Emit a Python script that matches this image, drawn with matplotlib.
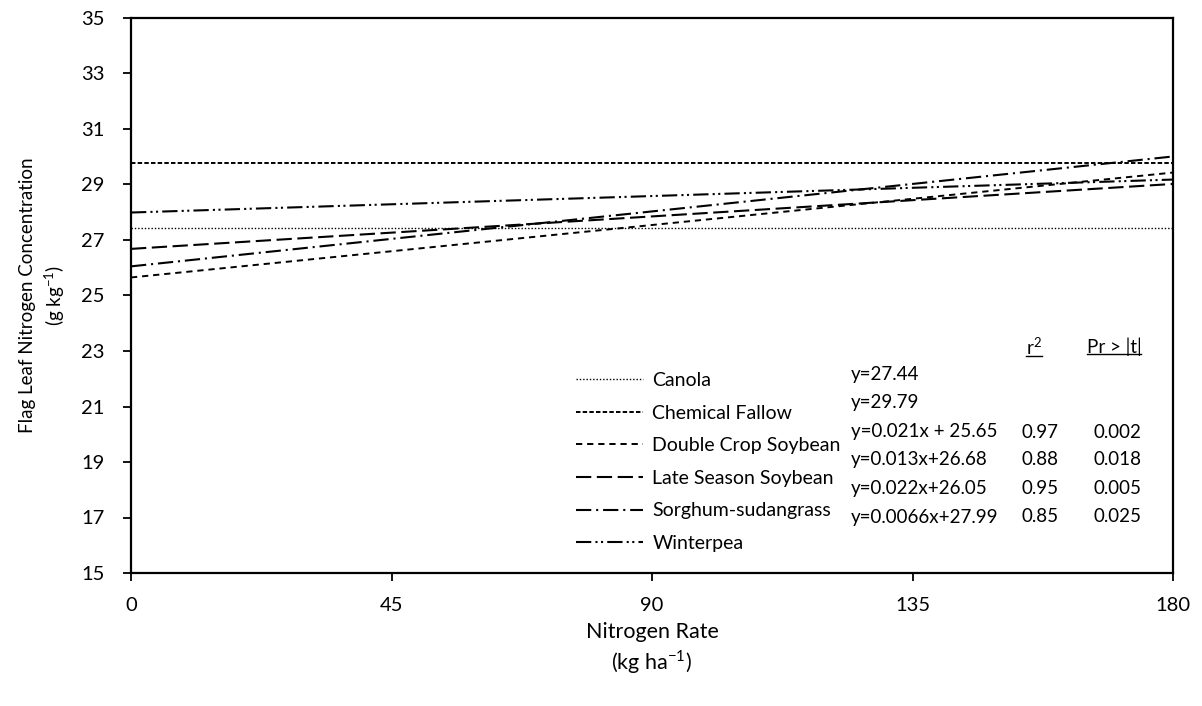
import numpy as np
import matplotlib
matplotlib.use("Agg")
import matplotlib.pyplot as plt
from matplotlib.lines import Line2D

plt.rcParams['font.family'] = ['Lato', 'DejaVu Sans']
plt.rcParams['lines.scale_dashes'] = False

# Regression fits of flag leaf N on nitrogen rate
treatments = ["Canola", "Chemical Fallow", "Double Crop Soybean",
              "Late Season Soybean", "Sorghum-sudangrass", "Winterpea"]
slopes = [0.0, 0.0, 0.021, 0.013, 0.022, 0.0066]
intercepts = [27.44, 29.79, 25.65, 26.68, 26.05, 27.99]
equations = ["y=27.44", "y=29.79", "y=0.021x + 25.65", "y=0.013x+26.68",
             "y=0.022x+26.05", "y=0.0066x+27.99"]
r_squared = ["", "", "0.97", "0.88", "0.95", "0.85"]
p_values = ["", "", "0.002", "0.018", "0.005", "0.025"]

x_ticks = [0, 45, 90, 135, 180]
y_ticks = [15, 17, 19, 21, 23, 25, 27, 29, 31, 33, 35]

styles = [
    dict(ls=(0, (1.0, 1.4)), lw=1.0),
    dict(ls=(0, (3.2, 1.6)), lw=1.4),
    dict(ls=(0, (4.5, 3.5)), lw=1.4),
    dict(ls=(0, (11, 4)), lw=1.5),
    dict(ls=(0, (11, 3.5, 1.5, 3.5)), lw=1.5),
    dict(ls=(0, (11, 3, 1.5, 2.5, 1.5, 3)), lw=1.5),
]

fig = plt.figure(figsize=(12.02, 7.06), dpi=100)
ax = fig.add_axes([131 / 1202, 1 - 573 / 706, 1042 / 1202, 555 / 706])

xs = np.array([0, 180])
for name, m, b, st in zip(treatments, slopes, intercepts, styles):
    ax.plot(xs, m * xs + b, color="black", label=name, **st)

ax.set_xlim(0, 180)
ax.set_ylim(15, 35)
ax.set_xticks(x_ticks)
ax.set_yticks(y_ticks)
ax.tick_params(direction="out", length=6, width=1.3, labelsize=14.5,
               colors="black")
ax.tick_params(axis="y", pad=13)
ax.tick_params(axis="x", pad=11)
for sp in ax.spines.values():
    sp.set_linewidth(1.6)

ax.set_ylabel("Flag Leaf Nitrogen Concentration\n(g kg$^{\\mathregular{-1}}$)",
              fontsize=13.5, linespacing=1.3, labelpad=10)
ax.set_xlabel("Nitrogen Rate\n(kg ha$^{\\mathregular{-1}}$)", fontsize=15.5,
              linespacing=1.3, labelpad=6)

leg = ax.legend(loc="upper left", bbox_to_anchor=(0.42, 0.376), frameon=False,
                fontsize=14, handlelength=3.4, handletextpad=0.5,
                labelspacing=0.8, borderaxespad=0)

# equation table beside the legend
row_y = [375, 403, 432, 460, 489, 517]
for eq, r2, p, py in zip(equations, r_squared, p_values, row_y):
    yy = 1 - (py - 18) / 555
    ax.text((851 - 131) / 1042, yy, eq, transform=ax.transAxes, fontsize=13.5,
            va="center", ha="left")
    ax.text((1040 - 131) / 1042, yy, r2, transform=ax.transAxes, fontsize=13.5,
            va="center", ha="center")
    ax.text((1117 - 131) / 1042, yy, p, transform=ax.transAxes, fontsize=13.5,
            va="center", ha="center")

hy = 1 - (347 - 18) / 555
headers = [
    ax.text((1034 - 131) / 1042, hy, "r$^{\\mathregular{2}}$",
            transform=ax.transAxes, fontsize=13.5, va="center", ha="center"),
    ax.text((1114 - 131) / 1042, hy, "Pr > |t|", transform=ax.transAxes,
            fontsize=13.5, va="center", ha="center"),
]

# underline the column headers
fig.canvas.draw()
renderer = fig.canvas.get_renderer()
for t in headers:
    bb = t.get_window_extent(renderer)
    y0 = bb.y0 + 2
    fig.add_artist(Line2D([bb.x0, bb.x1], [y0, y0], transform=None,
                          color="black", lw=1.0))

fig.savefig("out.png", dpi=100, facecolor="white")
